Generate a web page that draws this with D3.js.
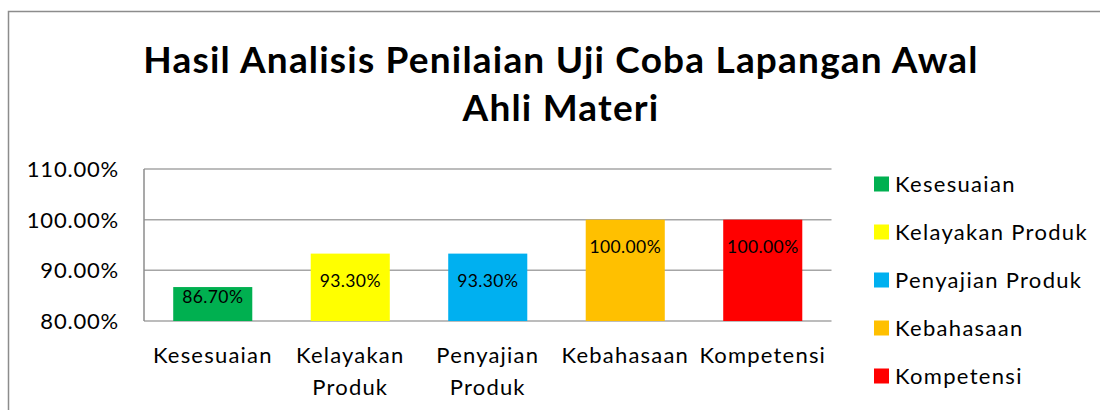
<!DOCTYPE html>
<html>
<head>
    <meta charset="utf-8">
    <style>
        body { margin: 0; background: #fff; }
        text { font-family: Lato, "Open Sans", sans-serif; fill: #000; }
    </style>
</head>
<body>
    <svg width="1100" height="410"></svg>
    <script src="https://d3js.org/d3.v7.min.js"></script>
    <script>
        // data
        const categories = ["Kesesuaian", "Kelayakan Produk", "Penyajian Produk", "Kebahasaan", "Kompetensi"];
        const axisLabels = [["Kesesuaian"], ["Kelayakan", "Produk"], ["Penyajian", "Produk"], ["Kebahasaan"], ["Kompetensi"]];
        const values = [0.867, 0.933, 0.933, 1.0, 1.0];
        const colors = ["#00B050", "#FFFF00", "#00B0F0", "#FFC000", "#FF0000"];
        const yTicks = [0.8, 0.9, 1.0, 1.1];
        const titleLines = ["Hasil Analisis Penilaian Uji Coba Lapangan Awal", "Ahli Materi"];

        const svg = d3.select("svg");
        const pct = d3.format(".2%");

        // chart frame (only left and top edges visible in the crop)
        svg.append("path")
            .attr("d", "M8.5,410 V11.5 H1100")
            .attr("fill", "none")
            .attr("stroke", "#8c8c8c")
            .attr("stroke-width", 1.5);

        svg.selectAll(".title")
            .data(titleLines)
            .enter()
            .append("text")
            .attr("x", 561)
            .attr("y", (d, i) => 73 + i * 48)
            .attr("text-anchor", "middle")
            .style("font-size", "37px")
            .style("font-weight", "bold")
            .style("letter-spacing", "1.2px")
            .text(d => d);

        const x = d3.scaleBand().domain(categories).range([144, 831.5]).paddingInner(0.425).paddingOuter(0.2125);
        const y = d3.scaleLinear().domain([0.8, 1.1]).range([321, 169]);

        // gridlines
        svg.selectAll(".grid")
            .data(yTicks)
            .enter()
            .append("line")
            .attr("x1", 144).attr("x2", 831.5)
            .attr("y1", d => y(d)).attr("y2", d => y(d))
            .attr("stroke", "#a6a6a6")
            .attr("stroke-width", 1.5);

        svg.append("line")
            .attr("x1", 144).attr("x2", 144)
            .attr("y1", y(1.1)).attr("y2", y(0.8))
            .attr("stroke", "#8c8c8c")
            .attr("stroke-width", 1.5);

        // y tick labels
        svg.selectAll(".ytick")
            .data(yTicks)
            .enter()
            .append("text")
            .attr("x", 119)
            .attr("y", d => y(d))
            .attr("dy", "0.36em")
            .attr("text-anchor", "end")
            .style("font-size", "22px")
            .style("letter-spacing", "0.8px")
            .text(d => pct(d));

        // bars
        svg.selectAll(".bar")
            .data(values)
            .enter()
            .append("rect")
            .attr("x", (d, i) => x(categories[i]))
            .attr("y", d => y(d))
            .attr("width", x.bandwidth())
            .attr("height", d => y(0.8) - y(d))
            .attr("fill", (d, i) => colors[i]);

        // data labels: inside end, kept above the bar bottom for short bars
        svg.selectAll(".val")
            .data(values)
            .enter()
            .append("text")
            .attr("x", (d, i) => x(categories[i]) + x.bandwidth() / 2)
            .attr("y", d => Math.min(y(d) + 33, y(0.8) - 18))
            .attr("text-anchor", "middle")
            .style("font-size", "17.5px")
            .style("letter-spacing", "0.4px")
            .text(d => pct(d));

        // category labels
        const cat = svg.selectAll(".cat")
            .data(axisLabels)
            .enter()
            .append("text")
            .attr("text-anchor", "middle")
            .style("font-size", "22px")
            .style("letter-spacing", "1.2px");
        cat.selectAll("tspan")
            .data((d, i) => d.map(s => ({s, i})))
            .enter()
            .append("tspan")
            .attr("x", d => x(categories[d.i]) + x.bandwidth() / 2)
            .attr("y", (d, j) => 363 + j * 32)
            .text(d => d.s);

        // legend
        const legend = svg.selectAll(".legend")
            .data(categories)
            .enter()
            .append("g")
            .attr("transform", (d, i) => `translate(874,${184 + i * 48})`);
        legend.append("rect")
            .attr("y", -7.5)
            .attr("width", 15)
            .attr("height", 15)
            .attr("fill", (d, i) => colors[i]);
        legend.append("text")
            .attr("x", 21)
            .attr("dy", "0.36em")
            .style("font-size", "22px")
            .style("letter-spacing", "1.3px")
            .text(d => d);
    </script>
</body>
</html>
